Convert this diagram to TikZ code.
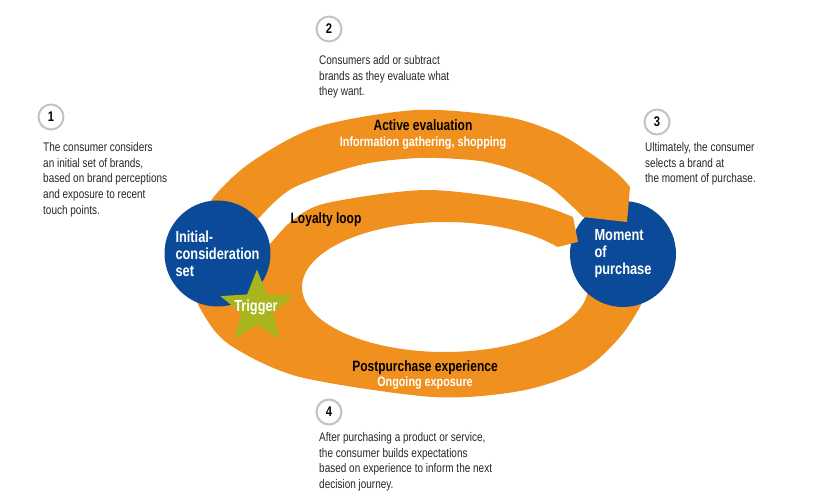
\documentclass[tikz,border=0pt]{standalone}
\usepackage{fontspec}
\setmainfont{Liberation Sans}[FakeStretch=0.8]
\usetikzlibrary{positioning, shapes.geometric}

\definecolor{loopOrange}{HTML}{F0901F}
\definecolor{stageBlue}{HTML}{0A4A98}
\definecolor{triggerGreen}{HTML}{A9B51D}
\definecolor{badgeGray}{HTML}{C6C2BC}

\begin{document}
\begin{tikzpicture}[x=1pt, y=-1pt,
    band/.style={fill=loopOrange},
    stage/.style={circle, fill=stageBlue, text=white, align=left, inner sep=0pt,
      minimum size=106pt, font=\fontsize{16}{17}\selectfont\bfseries},
    badge/.style={circle, draw=badgeGray, line width=2pt, fill=white, inner sep=0pt,
      minimum size=25pt, font=\fontsize{14}{14}\selectfont\bfseries},
    note/.style={anchor=north west, align=left, inner sep=0pt, text=black!85,
      font=\fontsize{12.5}{15.8}\selectfont},
    phase/.style={anchor=base, font=\fontsize{15}{15}\selectfont\bfseries},
    phasesub/.style={anchor=base, text=white, font=\fontsize{13.5}{13.5}\selectfont\bfseries}]
  \useasboundingbox (0,0) rectangle (828,497);

  % postpurchase band, under the purchase circle
  \fill[band] plot[smooth] coordinates {(205,235) (190,280) (207,320) (233,347) (300,377)
      (433,397) (520,391) (583,370) (620,337) (642,303) (650,278)}
    -- (588,287) arc[start angle=0, end angle=180, x radius=143, y radius=65]
    -- (300,250) -- cycle;

  \node[stage] (purchase) at (623,254) {Moment\\of\\purchase};

  % active evaluation arc
  \fill[band] plot[smooth] coordinates {(200,238) (210,202) (250,163) (317,127) (417,110)
      (507,117) (557,133) (590,153) (617,173) (630,187)}
    -- (627,222) -- (583,217)
    -- plot[smooth] coordinates {(573,207) (550,187) (520,172) (480,161) (420,158)
      (360,165) (293,188) (258,219) (245,238)} -- cycle;

  % loyalty loop
  \fill[band] plot[smooth] coordinates {(255,262) (270,244) (293,220) (327,203) (427,190)
      (527,202) (573,217)}
    -- (578,242) -- (557.7,247)
    arc[start angle=-38, end angle=-180, x radius=143, y radius=65]
    -- (250,285) -- cycle;

  \node[stage] (initial) at (217.5,253.5) {Initial-\\consideration\\set};

  \node[star, star points=5, star point ratio=2.3, minimum size=77pt, inner sep=0pt,
    fill=triggerGreen] (trigger) at (257,308) {};
  \node[anchor=base, text=white, font=\fontsize{16}{16}\selectfont\bfseries]
    (triggerlabel) at (256,312) {Trigger};

  \node[phase] (active) at (423,131) {Active evaluation};
  \node[phasesub] (activesub) at (423,147) {Information gathering, shopping};
  \node[phase] (loyalty) at (326,224) {Loyalty loop};
  \node[phase] (post) at (425,371) {Postpurchase experience};
  \node[phasesub] (postsub) at (425,386) {Ongoing exposure};

  \node[badge] (n1) at (51,117) {1};
  \node[badge] (n2) at (329,29) {2};
  \node[badge] (n3) at (657,122) {3};
  \node[badge] (n4) at (329,412) {4};

  \node[note] (note1) at (43,142) {The consumer considers\\an initial set of brands,\\based on brand perceptions\\and exposure to recent\\touch points.};
  \node[note] (note2) at (319,55) {Consumers add or subtract\\brands as they evaluate what\\they want.};
  \node[note] (note3) at (645,142) {Ultimately, the consumer\\selects a brand at\\the moment of purchase.};
  \node[note] (note4) at (319,432) {After purchasing a product or service,\\the consumer builds expectations\\based on experience to inform the next\\decision journey.};
\end{tikzpicture}
\end{document}
